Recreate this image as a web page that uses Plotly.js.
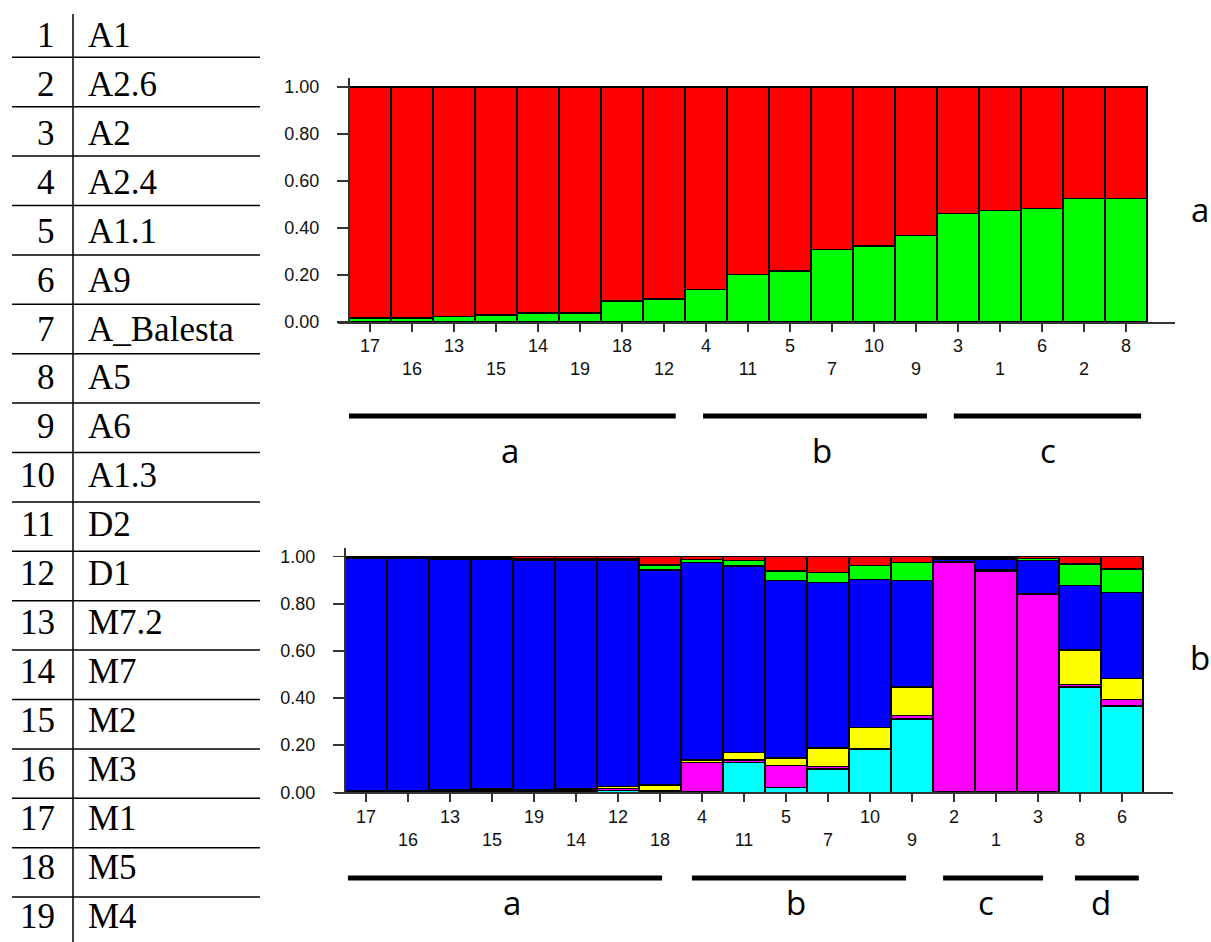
<!DOCTYPE html>
<html>
<head>
<meta charset="utf-8">
<script src="https://cdn.plot.ly/plotly-3.0.1.min.js"></script>
<style>html,body{margin:0;padding:0;background:#fff;}#chart{width:1211px;height:942px;}</style>
</head>
<body>
<div id="chart"></div>
<script>
// ---- Legend table ----
const tableNums = ["1","2","3","4","5","6","7","8","9","10","11","12","13","14","15","16","17","18","19"];
const tableNames = ["A1","A2.6","A2","A2.4","A1.1","A9","A_Balesta","A5","A6","A1.3","D2","D1","M7.2","M7","M2","M3","M1","M5","M4"];

// ---- Plot a (K=2) ----
const orderA = ["17","16","13","15","14","19","18","12","4","11","5","7","10","9","3","1","6","2","8"];
const greenA = [0.016,0.016,0.023,0.030,0.038,0.038,0.089,0.097,0.139,0.203,0.217,0.309,0.323,0.369,0.461,0.475,0.482,0.525,0.525];
const redA   = [0.984,0.984,0.977,0.970,0.962,0.962,0.911,0.903,0.861,0.797,0.783,0.691,0.677,0.631,0.539,0.525,0.518,0.475,0.475];
const groupsA = ["a","b","c"];

// ---- Plot b (K=6) ----
const orderB = ["17","16","13","15","19","14","12","18","4","11","5","7","10","9","2","1","3","8","6"];
const cyanB    = [0.002,0.002,0.004,0.006,0.004,0.006,0.008,0.004,0.004,0.126,0.021,0.098,0.182,0.311,0.002,0.003,0.003,0.448,0.366];
const magentaB = [0.002,0.002,0.003,0.005,0.003,0.005,0.008,0.004,0.122,0.011,0.093,0.012,0.003,0.014,0.973,0.937,0.838,0.009,0.027];
const yellowB  = [0.002,0.002,0.003,0.006,0.003,0.006,0.008,0.022,0.011,0.031,0.032,0.078,0.091,0.123,0.002,0.006,0.003,0.147,0.089];
const blueB    = [0.988,0.988,0.980,0.973,0.975,0.968,0.961,0.913,0.838,0.793,0.752,0.703,0.628,0.450,0.012,0.043,0.140,0.273,0.365];
const greenB   = [0.003,0.003,0.005,0.005,0.007,0.007,0.007,0.022,0.014,0.022,0.041,0.043,0.058,0.078,0.005,0.005,0.008,0.092,0.100];
const redB     = [0.003,0.003,0.005,0.005,0.008,0.008,0.008,0.035,0.011,0.017,0.061,0.066,0.038,0.024,0.006,0.006,0.008,0.031,0.053];
const groupsB = ["a","b","c","d"];

const yTicks = [0, 0.2, 0.4, 0.6, 0.8, 1.0];
const yTickText = ["0.00","0.20","0.40","0.60","0.80","1.00"];

// ---- helpers ----
const W = 1211, H = 942;
const px = x => x / W;
const py = y => (H - y) / H;
const idx = orderA.map((_, i) => i);
const stagger = arr => arr.map((t, i) => (i % 2 === 0 ? t : "<br>" + t));
const outline = {color: "#000", width: 1.5};

function barTrace(vals, color, xa, ya, labels) {
  return {type: "bar", x: idx, y: vals, marker: {color: color, line: outline},
          xaxis: xa, yaxis: ya, width: 1, hoverinfo: "y", showlegend: false,
          customdata: labels};
}

const traces = [
  barTrace(greenA, "#00FF00", "x", "y", orderA),
  barTrace(redA, "#FF0000", "x", "y", orderA),
  barTrace(cyanB, "#00FFFF", "x2", "y2", orderB),
  barTrace(magentaB, "#FF00FF", "x2", "y2", orderB),
  barTrace(yellowB, "#FFFF00", "x2", "y2", orderB),
  barTrace(blueB, "#0000FF", "x2", "y2", orderB),
  barTrace(greenB, "#00FF00", "x2", "y2", orderB),
  barTrace(redB, "#FF0000", "x2", "y2", orderB)
];

const tickFont = {family: "Liberation Sans, Arial, sans-serif", size: 18, color: "#111"};
const axisCommon = {showgrid: false, zeroline: false, showline: true, linecolor: "#333", linewidth: 2,
                    ticks: "outside", tickcolor: "#333", tickwidth: 1.5, tickfont: tickFont, fixedrange: true};

const barW = 42;
const aLeft = 349, aAxL = 338, aAxR = 1175, aY0 = 322, aScale = 235;
const bLeft = 345, bAxL = 335, bAxR = 1173, bY0 = 792.3, bScale = 235.6;

const layout = {
  width: W, height: H, margin: {l: 0, r: 0, t: 0, b: 0},
  paper_bgcolor: "#fff", plot_bgcolor: "rgba(0,0,0,0)",
  barmode: "stack", bargap: 0, showlegend: false,
  xaxis: Object.assign({}, axisCommon, {
    domain: [px(aAxL), px(aAxR)], anchor: "y",
    range: [-0.5 - (aLeft - aAxL) / barW, -0.5 + (aAxR - aLeft) / barW],
    tickvals: idx, ticktext: stagger(orderA), ticklen: 8, ticklabelstandoff: -2
  }),
  yaxis: Object.assign({}, axisCommon, {
    domain: [py(aY0), py(aY0 - 1.04 * aScale)], anchor: "free", position: px(aLeft),
    range: [0, 1.04], tickvals: yTicks, ticktext: yTickText, ticklen: 11, ticklabelstandoff: 14
  }),
  xaxis2: Object.assign({}, axisCommon, {
    domain: [px(bAxL), px(bAxR)], anchor: "y2",
    range: [-0.5 - (bLeft - bAxL) / barW, -0.5 + (bAxR - bLeft) / barW],
    tickvals: idx, ticktext: stagger(orderB), ticklen: 8, ticklabelstandoff: -1
  }),
  yaxis2: Object.assign({}, axisCommon, {
    domain: [py(bY0), py(bY0 - 1.037 * bScale)], anchor: "free", position: px(bLeft),
    range: [0, 1.037], tickvals: yTicks, ticktext: yTickText, ticklen: 11, ticklabelstandoff: 14
  }),
  shapes: [], annotations: []
};

// table lines
const rowH = 49.4, firstLine = 57.3;
for (let k = 0; k < tableNums.length - 1; k++) {
  const y = firstLine + rowH * k;
  layout.shapes.push({type: "line", xref: "paper", yref: "paper", x0: px(12), x1: px(260), y0: py(y), y1: py(y),
                      line: {color: "#000", width: 1.5}});
}
layout.shapes.push({type: "line", xref: "paper", yref: "paper", x0: px(73), x1: px(73), y0: py(14), y1: py(942),
                    line: {color: "#000", width: 1.5}});
const serif = {family: "Liberation Serif, Times New Roman, serif", size: 35, color: "#000"};
const textTop = 35.5, textStep = 48.92;
tableNums.forEach((n, i) => {
  const yc = textTop + textStep * i;
  layout.annotations.push({xref: "paper", yref: "paper", x: px(57), y: py(yc), xanchor: "right", yanchor: "middle",
                           text: n, showarrow: false, font: serif});
  layout.annotations.push({xref: "paper", yref: "paper", x: px(86), y: py(yc), xanchor: "left", yanchor: "middle",
                           text: tableNames[i], showarrow: false, font: serif});
});

// group bars and labels (spans in bar units)
const grpFont = {family: "Open Sans, Lato, sans-serif", size: 33, color: "#000"};
const spansA = [[-0.5, 7.28, 3.33], [7.93, 13.26, 10.76], [13.9, 18.36, 16.14]];
groupsA.forEach((g, i) => {
  const s = spansA[i];
  layout.shapes.push({type: "line", xref: "x", yref: "paper", x0: s[0], x1: s[1], y0: py(416), y1: py(416),
                      line: {color: "#000", width: 5}});
  layout.annotations.push({xref: "x", yref: "paper", x: s[2], y: py(450), xanchor: "center", yanchor: "middle",
                           text: g, showarrow: false, font: grpFont});
});
const spansB = [[-0.43, 7.05, 3.48], [7.76, 12.86, 10.24], [13.74, 16.12, 14.76], [16.88, 18.4, 17.5]];
groupsB.forEach((g, i) => {
  const s = spansB[i];
  layout.shapes.push({type: "line", xref: "x2", yref: "paper", x0: s[0], x1: s[1], y0: py(878), y1: py(878),
                      line: {color: "#000", width: 5}});
  layout.annotations.push({xref: "x2", yref: "paper", x: s[2], y: py(902), xanchor: "center", yanchor: "middle",
                           text: g, showarrow: false, font: grpFont});
});
// panel labels
layout.annotations.push({xref: "paper", yref: "paper", x: px(1200), y: py(210), xanchor: "center", yanchor: "middle",
                         text: "a", showarrow: false, font: grpFont});
layout.annotations.push({xref: "paper", yref: "paper", x: px(1200), y: py(657), xanchor: "center", yanchor: "middle",
                         text: "b", showarrow: false, font: grpFont});

Plotly.newPlot("chart", traces, layout, {displayModeBar: false, staticPlot: true});
</script>
</body>
</html>
